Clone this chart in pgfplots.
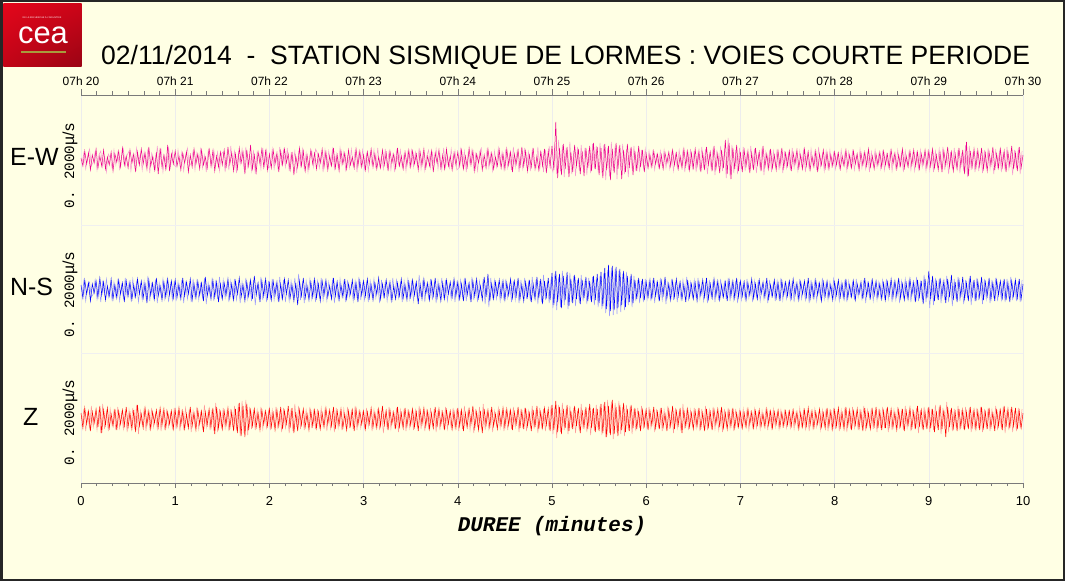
\documentclass[border=0pt]{standalone}
\usepackage{fontspec}
\setmainfont{Liberation Sans}
\newfontfamily\mono{Liberation Mono}
\usepackage{pgfplots}
\pgfplotsset{compat=1.18}
\usetikzlibrary{shadings}
\definecolor{bg}{HTML}{FFFFE4}
\definecolor{axgray}{HTML}{7A7A7A}
\definecolor{ceared}{HTML}{E3061B}
\definecolor{ceadark}{HTML}{9A0414}
\definecolor{ceagold}{HTML}{A89B3C}

% trace axes share this style
\pgfplotsset{trace/.style={
  width=942bp, height=128bp, scale only axis, hide axis,
  xmin=0, xmax=10, ymin=-64, ymax=64, clip=false}}

\begin{document}
\begin{tikzpicture}[x=1bp,y=1bp]
% background and frame
\fill[bg] (0,0) rectangle (1065,-581);
\draw[line width=2.5bp, black!85] (1.25,-1.25) rectangle (1063.75,-579.75);

% CEA logo
\shade[upper left=ceared, upper right=ceared!90!black, lower left=ceared!85!black, lower right=ceadark]
  (3.3,-3.3) rectangle (81.7,-66.7);
\node[white, inner sep=0, font=\fontsize{2.3}{3}\selectfont] at (42,-18) {DE LA RECHERCHE À L'INDUSTRIE};
\node[white, font=\fontsize{31}{31}\selectfont, inner sep=0, anchor=base] at (43,-44) {cea};
\fill[ceagold] (21,-50.7) rectangle (66,-52.7);

% title
\node[anchor=base west, inner sep=0, font=\fontsize{26.6}{27}\selectfont] at (101,-65)
  {02/11/2014~~-~~STATION SISMIQUE DE LORMES : VOIES COURTE PERIODE};

% bottom axis (minutes) with grid
\begin{axis}[
  at={(81bp,-483bp)}, anchor=south west,
  width=942bp, height=388bp, scale only axis,
  xmin=0, xmax=10, ymin=0, ymax=388,
  axis x line*=bottom, axis y line=none,
  xtick={0,...,10}, minor x tick num=5,
  tick align=outside, major tick length=5bp, minor tick length=3bp,
  axis line style={axgray, line width=0.8bp, -},
  every tick/.style={axgray, line width=0.6bp},
  xmajorgrids, major grid style={black!7, line width=0.6bp},
  /pgf/number format/assume math mode=true,
  xticklabel style={font=\fontsize{13}{13}\selectfont, yshift=-5bp},
]
\draw[black!6, line width=0.6bp] (axis cs:0,130) -- (axis cs:10,130);
\draw[black!6, line width=0.6bp] (axis cs:0,258) -- (axis cs:10,258);
\end{axis}

% top axis (clock time)
\begin{axis}[
  at={(81bp,-483bp)}, anchor=south west,
  width=942bp, height=388bp, scale only axis,
  xmin=0, xmax=10, ymin=0, ymax=388,
  axis x line*=top, axis y line=none,
  xtick={0,...,10}, minor x tick num=5,
  xticklabels={07h 20,07h 21,07h 22,07h 23,07h 24,07h 25,07h 26,07h 27,07h 28,07h 29,07h 30},
  tick align=outside, major tick length=6bp, minor tick length=3.5bp,
  axis line style={axgray, line width=0.8bp, -},
  every tick/.style={axgray, line width=0.6bp},
  xticklabel style={font=\fontsize{12}{12}\selectfont},
]
\end{axis}

% E-W trace
\begin{axis}[trace, at={(81bp,-224bp)}, anchor=south west]
\addplot[magenta!40, line width=0.5bp, no marks] table[row sep=\\, x expr=\coordindex/50+0.01, y index=0] {y\\
-4\\ 7\\ -9\\ 3\\ 11\\ -6\\ -2\\ 8\\ -10\\ 5\\ 9\\ -7\\ 4\\ -12\\ 6\\ 2\\ -8\\ 10\\ -5\\ 7\\ -9\\ 3\\ 11\\ -6\\ 5\\
9\\ -11\\ 4\\ -7\\ 12\\ -3\\ 6\\ -10\\ 8\\ -5\\ 11\\ -13\\ 7\\ 2\\ -9\\ 14\\ -6\\ 10\\ -12\\ 4\\ -8\\ 13\\ -7\\ 9\\ -5\\
-7\\ 10\\ -5\\ 8\\ -11\\ 4\\ 12\\ -6\\ -3\\ 9\\ -10\\ 7\\ -4\\ 11\\ -8\\ 5\\ -12\\ 9\\ 6\\ -7\\ 10\\ -4\\ 8\\ -11\\ 6\\
8\\ -12\\ 6\\ -10\\ 14\\ -5\\ 9\\ -13\\ 7\\ -4\\ 11\\ -9\\ 13\\ -7\\ 5\\ -11\\ 10\\ -14\\ 8\\ 6\\ -9\\ 12\\ -6\\ 10\\ -8\\
-6\\ 11\\ -9\\ 5\\ -8\\ 13\\ -4\\ 10\\ -7\\ 12\\ -11\\ 6\\ -4\\ 9\\ -13\\ 8\\ -6\\ 11\\ -9\\ 7\\ -12\\ 5\\ 9\\ -7\\ 11\\
7\\ -8\\ 5\\ -12\\ 10\\ -6\\ 9\\ -4\\ 11\\ -9\\ 6\\ -7\\ 12\\ -5\\ 8\\ -10\\ 4\\ -8\\ 11\\ -6\\ 9\\ -12\\ 7\\ -5\\ 10\\
-9\\ 6\\ -11\\ 7\\ -5\\ 10\\ -8\\ 12\\ -6\\ 4\\ -9\\ 11\\ -7\\ 8\\ -10\\ 5\\ -12\\ 9\\ -4\\ 10\\ -7\\ 6\\ -11\\ 8\\ -6\\
10\\ -7\\ 8\\ -5\\ 12\\ -9\\ 6\\ -11\\ 4\\ 10\\ -8\\ 7\\ -5\\ 11\\ -9\\ 6\\ -10\\ 12\\ -7\\ 5\\ -8\\ 11\\ -6\\ 9\\ -10\\
-8\\ 11\\ -6\\ 9\\ -12\\ 7\\ -4\\ 10\\ -9\\ 6\\ -11\\ 8\\ 12\\ -7\\ -5\\ 10\\ -8\\ 6\\ -11\\ 9\\ -7\\ 12\\ -5\\ 8\\ -9\\
11\\ -8\\ 6\\ -10\\ 13\\ -7\\ 9\\ -12\\ 5\\ -9\\ 12\\ -6\\ 8\\ -11\\ 10\\ -5\\ -8\\ 13\\ -9\\ 7\\ -12\\ 10\\ -8\\ 14\\ -6\\
-12\\ 16\\ -14\\ 20\\ -11\\ 15\\ -17\\ 12\\ -10\\ 18\\ -14\\ 9\\ -16\\ 13\\ -11\\ 15\\ -8\\ 12\\ -15\\ 10\\ -13\\ 16\\ -9\\ 14\\ -12\\
17\\ -13\\ 15\\ -20\\ 12\\ -16\\ 18\\ -11\\ 14\\ -19\\ 13\\ -10\\ 16\\ -14\\ 11\\ -17\\ 12\\ -9\\ 14\\ -11\\ 8\\ -12\\ 10\\ -8\\ 11\\
-7\\ 9\\ -6\\ 8\\ -10\\ 5\\ -7\\ 9\\ -6\\ 10\\ -8\\ 4\\ -9\\ 7\\ -11\\ 6\\ -8\\ 10\\ -5\\ 9\\ -12\\ 7\\ -10\\ 11\\ -8\\
9\\ -12\\ 7\\ -10\\ 13\\ -8\\ 11\\ -14\\ 6\\ -9\\ 12\\ -15\\ 10\\ -7\\ 14\\ -11\\ 9\\ -18\\ 22\\ -16\\ 15\\ -13\\ 10\\ -14\\ 12\\
-9\\ 13\\ -11\\ 7\\ -10\\ 14\\ -8\\ 11\\ -13\\ 6\\ -9\\ 12\\ -15\\ 8\\ -7\\ 10\\ -12\\ 9\\ -6\\ 11\\ -10\\ 7\\ -13\\ 9\\ -8\\
7\\ -10\\ 12\\ -8\\ 5\\ -11\\ 9\\ -6\\ 10\\ -12\\ 7\\ -9\\ 11\\ -5\\ 8\\ -10\\ 13\\ -7\\ 6\\ -11\\ 9\\ -8\\ 10\\ -6\\ 7\\
-9\\ 6\\ -8\\ 10\\ -5\\ 7\\ -11\\ 8\\ -6\\ 9\\ -10\\ 5\\ -7\\ 11\\ -8\\ 6\\ -9\\ 7\\ -12\\ 8\\ -5\\ 10\\ -7\\ 6\\ -9\\
8\\ -10\\ 6\\ -7\\ 9\\ -11\\ 5\\ -8\\ 10\\ -6\\ 7\\ -12\\ 9\\ -5\\ 8\\ -10\\ 6\\ -11\\ 7\\ -9\\ 10\\ -7\\ 5\\ -11\\ 8\\
-10\\ 7\\ -12\\ 9\\ -6\\ 11\\ -8\\ 13\\ -10\\ 6\\ -14\\ 8\\ -9\\ 12\\ -7\\ 10\\ -13\\ 7\\ -11\\ 15\\ -17\\ 14\\ -10\\ 8\\ -12\\
9\\ -11\\ 7\\ -13\\ 10\\ -8\\ 12\\ -9\\ 6\\ -14\\ 11\\ -7\\ 9\\ -12\\ 8\\ -10\\ 13\\ -9\\ 7\\ -15\\ 10\\ -8\\ 12\\ -14\\ 9\\
};
\addplot[magenta, line width=0.5bp, no marks] table[row sep=\\, x expr=\coordindex/50, y index=0] {y\\
2\\ -6\\ 9\\ -4\\ 7\\ -10\\ 5\\ -3\\ 11\\ -8\\ 4\\ -6\\ 10\\ -9\\ 3\\ -5\\ 8\\ -11\\ 6\\ -2\\ 9\\ -7\\ 12\\ -5\\ 4\\
-8\\ 10\\ -3\\ 6\\ -12\\ 8\\ -5\\ 11\\ -4\\ 7\\ -9\\ 13\\ -6\\ 3\\ -10\\ 8\\ -14\\ 12\\ -7\\ 5\\ -9\\ 15\\ -11\\ 6\\ -4\\
9\\ -6\\ 4\\ -10\\ 7\\ -3\\ 8\\ -12\\ 5\\ -7\\ 11\\ -4\\ 6\\ -9\\ 10\\ -5\\ 3\\ -8\\ 12\\ -6\\ 9\\ -11\\ 4\\ -7\\ 8\\
-5\\ 10\\ -8\\ 13\\ -4\\ 7\\ -11\\ 6\\ -9\\ 12\\ -3\\ 8\\ -14\\ 10\\ -6\\ 15\\ -9\\ 5\\ -12\\ 8\\ -4\\ 11\\ -7\\ 9\\ -10\\
6\\ -8\\ 10\\ -4\\ 7\\ -12\\ 9\\ -5\\ 11\\ -3\\ 6\\ -10\\ 8\\ -15\\ 4\\ -7\\ 12\\ -6\\ 9\\ -11\\ 5\\ -8\\ 10\\ -4\\ 7\\
-9\\ 6\\ -3\\ 11\\ -7\\ 8\\ -10\\ 4\\ -6\\ 12\\ -8\\ 5\\ -11\\ 9\\ -4\\ 7\\ -9\\ 10\\ -5\\ 3\\ -8\\ 11\\ -6\\ 9\\ -7\\
5\\ -10\\ 8\\ -4\\ 11\\ -7\\ 6\\ -9\\ 3\\ -8\\ 10\\ -5\\ 7\\ -11\\ 9\\ -3\\ 6\\ -8\\ 12\\ -6\\ 4\\ -9\\ 8\\ -5\\ 10\\
-7\\ 9\\ -4\\ 6\\ -10\\ 8\\ -5\\ 11\\ -8\\ 4\\ -6\\ 9\\ -12\\ 7\\ -3\\ 10\\ -8\\ 5\\ -9\\ 11\\ -6\\ 4\\ -10\\ 7\\ -5\\
8\\ -6\\ 10\\ -9\\ 4\\ -7\\ 12\\ -5\\ 9\\ -11\\ 6\\ -3\\ 8\\ -10\\ 5\\ -8\\ 11\\ -4\\ 7\\ -9\\ 3\\ -6\\ 10\\ -8\\ 6\\
-9\\ 11\\ -5\\ 8\\ -12\\ 6\\ -4\\ 10\\ -8\\ 13\\ -6\\ 9\\ -11\\ 5\\ -7\\ 12\\ -9\\ 4\\ -10\\ 8\\ -6\\ 11\\ -13\\ 9\\ -7\\
14\\ -10\\ 38\\ -18\\ 12\\ -15\\ 16\\ -9\\ 13\\ -17\\ 8\\ -12\\ 15\\ -6\\ 11\\ -14\\ 9\\ -16\\ 12\\ -8\\ 14\\ -11\\ 17\\ -9\\ 13\\
-15\\ 12\\ -18\\ 16\\ -10\\ 14\\ -20\\ 11\\ -13\\ 17\\ -9\\ 15\\ -19\\ 10\\ -12\\ 16\\ -8\\ 13\\ -15\\ 9\\ -11\\ 14\\ -7\\ 10\\ -12\\
6\\ -8\\ 5\\ -7\\ 9\\ -4\\ 6\\ -8\\ 5\\ -9\\ 7\\ -3\\ 8\\ -6\\ 10\\ -5\\ 7\\ -9\\ 4\\ -8\\ 11\\ -6\\ 9\\ -10\\ 7\\
-8\\ 11\\ -6\\ 9\\ -12\\ 7\\ -10\\ 13\\ -5\\ 8\\ -11\\ 14\\ -9\\ 6\\ -13\\ 10\\ -8\\ 20\\ -14\\ 17\\ -19\\ 12\\ -9\\ 15\\ -11\\
8\\ -12\\ 10\\ -6\\ 9\\ -13\\ 7\\ -10\\ 12\\ -5\\ 8\\ -11\\ 14\\ -7\\ 6\\ -9\\ 11\\ -8\\ 5\\ -10\\ 9\\ -6\\ 12\\ -8\\ 7\\
-6\\ 9\\ -11\\ 7\\ -4\\ 10\\ -8\\ 5\\ -9\\ 11\\ -6\\ 8\\ -10\\ 4\\ -7\\ 9\\ -12\\ 6\\ -5\\ 10\\ -8\\ 7\\ -9\\ 5\\ -6\\
8\\ -5\\ 7\\ -9\\ 4\\ -6\\ 10\\ -7\\ 5\\ -8\\ 9\\ -4\\ 6\\ -10\\ 7\\ -5\\ 8\\ -6\\ 11\\ -7\\ 4\\ -9\\ 6\\ -5\\ 8\\
-7\\ 9\\ -5\\ 6\\ -8\\ 10\\ -4\\ 7\\ -9\\ 5\\ -6\\ 11\\ -8\\ 4\\ -7\\ 9\\ -5\\ 10\\ -6\\ 8\\ -9\\ 6\\ -4\\ 10\\ -7\\
9\\ -6\\ 11\\ -8\\ 5\\ -10\\ 7\\ -12\\ 9\\ -5\\ 13\\ -7\\ 8\\ -11\\ 6\\ -9\\ 12\\ -6\\ 10\\ -14\\ 18\\ -16\\ 9\\ -7\\ 11\\
-8\\ 10\\ -6\\ 12\\ -9\\ 7\\ -11\\ 8\\ -5\\ 13\\ -10\\ 6\\ -8\\ 11\\ -7\\ 9\\ -12\\ 8\\ -6\\ 14\\ -9\\ 7\\ -11\\ 13\\ -8\\
5\\
};
\end{axis}

% N-S trace
\begin{axis}[trace, at={(81bp,-354bp)}, anchor=south west]
\addplot[blue!40, line width=0.5bp, no marks] table[row sep=\\, x expr=\coordindex/50+0.01, y index=0] {y\\
-6\\ 9\\ -11\\ 5\\ 8\\ -7\\ -4\\ 10\\ -9\\ 6\\ -12\\ 8\\ -5\\ 11\\ -7\\ 3\\ -10\\ 8\\ -6\\ 9\\ -11\\ 5\\ -8\\ 12\\ -7\\
7\\ -9\\ 11\\ -6\\ 8\\ -12\\ 5\\ -10\\ 9\\ -7\\ 14\\ -11\\ 6\\ -8\\ 10\\ -13\\ 7\\ -5\\ 11\\ -9\\ 8\\ -12\\ 6\\ -10\\ 9\\
-11\\ 8\\ -6\\ 10\\ -13\\ 7\\ -9\\ 5\\ -12\\ 11\\ -7\\ 9\\ -10\\ 6\\ -8\\ 12\\ -14\\ 7\\ -5\\ 10\\ -11\\ 8\\ -9\\ 13\\ -7\\
10\\ -8\\ 6\\ -12\\ 9\\ -7\\ 11\\ -10\\ 5\\ -13\\ 8\\ -6\\ 12\\ -9\\ 7\\ -11\\ 10\\ -15\\ 6\\ -8\\ 13\\ -10\\ 7\\ -12\\ 9\\
-8\\ 11\\ -10\\ 6\\ -9\\ 13\\ -7\\ 10\\ -12\\ 5\\ -11\\ 9\\ -6\\ 12\\ -8\\ 16\\ -10\\ 7\\ -13\\ 9\\ -5\\ 11\\ -9\\ 8\\ -12\\
9\\ -7\\ 12\\ -10\\ 6\\ -11\\ 8\\ -5\\ 10\\ -13\\ 7\\ -9\\ 11\\ -6\\ 8\\ -12\\ 10\\ -7\\ 5\\ -11\\ 9\\ -8\\ 13\\ -10\\ 6\\
-10\\ 7\\ -12\\ 9\\ -6\\ 11\\ -8\\ 5\\ -13\\ 10\\ -7\\ 8\\ -11\\ 6\\ -9\\ 12\\ -5\\ 10\\ -8\\ 7\\ -12\\ 9\\ -6\\ 11\\ -9\\
8\\ -11\\ 6\\ -9\\ 15\\ -7\\ 10\\ -12\\ 5\\ -8\\ 11\\ -10\\ 7\\ -13\\ 9\\ -6\\ 12\\ -8\\ 10\\ -11\\ 5\\ -9\\ 8\\ -12\\ 7\\
-9\\ 10\\ -7\\ 12\\ -11\\ 6\\ -8\\ 13\\ -10\\ 7\\ -12\\ 9\\ -5\\ 11\\ -14\\ 8\\ -17\\ 12\\ -7\\ 10\\ -9\\ 6\\ -11\\ 8\\ -10\\
11\\ -8\\ 6\\ -12\\ 9\\ -10\\ 7\\ -13\\ 10\\ -6\\ 12\\ -9\\ 8\\ -11\\ 13\\ -7\\ 10\\ -14\\ 9\\ -12\\ 15\\ -10\\ 8\\ -13\\ 11\\
-18\\ 16\\ -20\\ 13\\ -17\\ 19\\ -15\\ 11\\ -19\\ 17\\ -12\\ 14\\ -16\\ 10\\ -13\\ 15\\ -11\\ 9\\ -14\\ 12\\ -10\\ 13\\ -15\\ 11\\ -17\\
14\\ -19\\ 17\\ -23\\ 20\\ -26\\ 22\\ -25\\ 21\\ -24\\ 19\\ -22\\ 16\\ -20\\ 18\\ -15\\ 13\\ -17\\ 14\\ -11\\ 10\\ -13\\ 9\\ -12\\ 11\\
-9\\ 8\\ -11\\ 10\\ -13\\ 7\\ -9\\ 12\\ -10\\ 6\\ -14\\ 9\\ -7\\ 11\\ -10\\ 8\\ -12\\ 7\\ -9\\ 10\\ -6\\ 13\\ -11\\ 8\\ -7\\
10\\ -8\\ 12\\ -9\\ 6\\ -11\\ 8\\ -13\\ 10\\ -7\\ 9\\ -12\\ 7\\ -10\\ 11\\ -6\\ 8\\ -9\\ 12\\ -11\\ 7\\ -10\\ 9\\ -13\\ 8\\
-10\\ 7\\ -9\\ 11\\ -8\\ 6\\ -12\\ 9\\ -7\\ 10\\ -11\\ 5\\ -9\\ 8\\ -13\\ 10\\ -6\\ 7\\ -11\\ 9\\ -8\\ 12\\ -10\\ 6\\ -9\\
7\\ -10\\ 9\\ -12\\ 6\\ -8\\ 11\\ -9\\ 5\\ -10\\ 8\\ -13\\ 10\\ -7\\ 9\\ -11\\ 6\\ -8\\ 12\\ -9\\ 7\\ -10\\ 8\\ -6\\ 11\\
-9\\ 6\\ -11\\ 8\\ -7\\ 10\\ -12\\ 9\\ -6\\ 8\\ -10\\ 11\\ -7\\ 5\\ -9\\ 10\\ -13\\ 7\\ -8\\ 9\\ -11\\ 6\\ -10\\ 8\\ -7\\
10\\ -8\\ 11\\ -9\\ 6\\ -12\\ 8\\ -10\\ 7\\ -13\\ 9\\ -7\\ 11\\ -8\\ 10\\ -12\\ 6\\ -9\\ 13\\ -11\\ 8\\ -10\\ 15\\ -12\\ 9\\
-18\\ 10\\ -15\\ 12\\ -9\\ 11\\ -13\\ 7\\ -10\\ 14\\ -12\\ 8\\ -16\\ 11\\ -9\\ 13\\ -11\\ 7\\ -14\\ 10\\ -8\\ 12\\ -15\\ 9\\ -11\\
12\\ -10\\ 8\\ -14\\ 11\\ -9\\ 7\\ -13\\ 10\\ -8\\ 12\\ -11\\ 6\\ -10\\ 9\\ -12\\ 11\\ -8\\ 13\\ -10\\ 7\\ -11\\ 9\\ -12\\ 10\\
};
\addplot[blue, line width=0.5bp, no marks] table[row sep=\\, x expr=\coordindex/50, y index=0] {y\\
5\\ -8\\ 10\\ -4\\ 7\\ -11\\ 6\\ -3\\ 9\\ -7\\ 12\\ -5\\ 8\\ -10\\ 4\\ -6\\ 11\\ -9\\ 5\\ -8\\ 10\\ -4\\ 7\\ -12\\ 9\\
-6\\ 8\\ -10\\ 5\\ -7\\ 11\\ -4\\ 9\\ -8\\ 6\\ -13\\ 10\\ -5\\ 7\\ -9\\ 12\\ -6\\ 4\\ -10\\ 8\\ -7\\ 11\\ -5\\ 9\\ -8\\
10\\ -7\\ 5\\ -9\\ 12\\ -6\\ 8\\ -4\\ 11\\ -10\\ 6\\ -8\\ 9\\ -5\\ 7\\ -11\\ 13\\ -6\\ 4\\ -9\\ 10\\ -7\\ 8\\ -12\\ 6\\
-9\\ 7\\ -5\\ 11\\ -8\\ 6\\ -10\\ 9\\ -4\\ 12\\ -7\\ 5\\ -11\\ 8\\ -6\\ 10\\ -9\\ 14\\ -5\\ 7\\ -12\\ 9\\ -6\\ 11\\ -8\\
7\\ -10\\ 9\\ -5\\ 8\\ -12\\ 6\\ -9\\ 11\\ -4\\ 10\\ -8\\ 5\\ -11\\ 7\\ -15\\ 9\\ -6\\ 12\\ -8\\ 4\\ -10\\ 8\\ -7\\ 11\\
-8\\ 6\\ -11\\ 9\\ -5\\ 10\\ -7\\ 4\\ -9\\ 12\\ -6\\ 8\\ -10\\ 5\\ -7\\ 11\\ -9\\ 6\\ -4\\ 10\\ -8\\ 7\\ -12\\ 9\\ -5\\
9\\ -6\\ 11\\ -8\\ 5\\ -10\\ 7\\ -4\\ 12\\ -9\\ 6\\ -7\\ 10\\ -5\\ 8\\ -11\\ 4\\ -9\\ 7\\ -6\\ 11\\ -8\\ 5\\ -10\\ 8\\
-7\\ 10\\ -5\\ 8\\ -14\\ 6\\ -9\\ 11\\ -4\\ 7\\ -10\\ 9\\ -6\\ 12\\ -8\\ 5\\ -11\\ 7\\ -9\\ 10\\ -4\\ 8\\ -7\\ 11\\ -6\\
8\\ -9\\ 6\\ -11\\ 10\\ -5\\ 7\\ -12\\ 9\\ -6\\ 11\\ -8\\ 4\\ -10\\ 13\\ -7\\ 16\\ -11\\ 6\\ -9\\ 8\\ -5\\ 10\\ -7\\ 9\\
-10\\ 7\\ -5\\ 11\\ -8\\ 9\\ -6\\ 12\\ -9\\ 5\\ -11\\ 8\\ -7\\ 10\\ -12\\ 6\\ -9\\ 13\\ -8\\ 11\\ -14\\ 9\\ -7\\ 12\\ -10\\
17\\ -15\\ 19\\ -12\\ 16\\ -18\\ 14\\ -10\\ 18\\ -16\\ 11\\ -13\\ 15\\ -9\\ 12\\ -14\\ 10\\ -8\\ 13\\ -11\\ 9\\ -12\\ 14\\ -10\\ 16\\
-13\\ 18\\ -16\\ 22\\ -19\\ 25\\ -21\\ 24\\ -20\\ 23\\ -18\\ 21\\ -15\\ 19\\ -17\\ 14\\ -12\\ 16\\ -13\\ 10\\ -9\\ 12\\ -8\\ 11\\ -10\\
8\\ -7\\ 10\\ -9\\ 12\\ -6\\ 8\\ -11\\ 9\\ -5\\ 13\\ -8\\ 6\\ -10\\ 9\\ -7\\ 11\\ -6\\ 8\\ -9\\ 5\\ -12\\ 10\\ -7\\ 6\\
-9\\ 7\\ -11\\ 8\\ -5\\ 10\\ -7\\ 12\\ -9\\ 6\\ -8\\ 11\\ -6\\ 9\\ -10\\ 5\\ -7\\ 8\\ -11\\ 10\\ -6\\ 9\\ -8\\ 12\\ -7\\
9\\ -6\\ 8\\ -10\\ 7\\ -5\\ 11\\ -8\\ 6\\ -9\\ 10\\ -4\\ 8\\ -7\\ 12\\ -9\\ 5\\ -6\\ 10\\ -8\\ 7\\ -11\\ 9\\ -5\\ 8\\
-6\\ 9\\ -8\\ 11\\ -5\\ 7\\ -10\\ 8\\ -4\\ 9\\ -7\\ 12\\ -9\\ 6\\ -8\\ 10\\ -5\\ 7\\ -11\\ 8\\ -6\\ 9\\ -7\\ 5\\ -10\\
8\\ -5\\ 10\\ -7\\ 6\\ -9\\ 11\\ -8\\ 5\\ -7\\ 9\\ -10\\ 6\\ -4\\ 8\\ -9\\ 12\\ -6\\ 7\\ -8\\ 10\\ -5\\ 9\\ -7\\ 6\\
-9\\ 7\\ -10\\ 8\\ -5\\ 11\\ -7\\ 9\\ -6\\ 12\\ -8\\ 6\\ -10\\ 7\\ -9\\ 11\\ -5\\ 8\\ -12\\ 10\\ -7\\ 9\\ -14\\ 11\\ -8\\
19\\ -9\\ 14\\ -11\\ 8\\ -10\\ 12\\ -6\\ 9\\ -13\\ 11\\ -7\\ 15\\ -10\\ 8\\ -12\\ 10\\ -6\\ 13\\ -9\\ 7\\ -11\\ 14\\ -8\\ 10\\
-11\\ 9\\ -7\\ 13\\ -10\\ 8\\ -6\\ 12\\ -9\\ 7\\ -11\\ 10\\ -5\\ 9\\ -8\\ 11\\ -10\\ 7\\ -12\\ 9\\ -6\\ 10\\ -8\\ 11\\ -9\\
6\\
};
\end{axis}

% Z trace
\begin{axis}[trace, at={(81bp,-483bp)}, anchor=south west]
\addplot[red!40, line width=0.5bp, no marks] table[row sep=\\, x expr=\coordindex/50+0.01, y index=0] {y\\
-7\\ 10\\ -12\\ 6\\ -9\\ 13\\ -8\\ 5\\ -11\\ 9\\ -14\\ 15\\ -10\\ 7\\ -12\\ 10\\ -6\\ 8\\ -11\\ 12\\ -9\\ 6\\ -10\\ 8\\ -13\\
9\\ -7\\ 11\\ -10\\ 14\\ -15\\ 8\\ -6\\ 10\\ -12\\ 7\\ -9\\ 11\\ -8\\ 5\\ -10\\ 9\\ -12\\ 7\\ -11\\ 10\\ -8\\ 6\\ -9\\ 11\\
-10\\ 8\\ -12\\ 7\\ -9\\ 11\\ -6\\ 10\\ -13\\ 8\\ -7\\ 12\\ -10\\ 6\\ -9\\ 14\\ -8\\ 7\\ -11\\ 9\\ -12\\ 16\\ -13\\ 10\\ -8\\
11\\ -9\\ 7\\ -12\\ 10\\ -8\\ 13\\ -11\\ 15\\ -17\\ 18\\ -14\\ 19\\ -16\\ 12\\ -10\\ 8\\ -11\\ 9\\ -7\\ 12\\ -10\\ 6\\ -9\\ 8\\
-11\\ 9\\ -7\\ 12\\ -10\\ 8\\ -13\\ 11\\ -9\\ 6\\ -14\\ 10\\ -12\\ 15\\ -8\\ 13\\ -10\\ 7\\ -11\\ 9\\ -6\\ 12\\ -9\\ 8\\ -10\\
10\\ -8\\ 11\\ -7\\ 9\\ -12\\ 6\\ -10\\ 8\\ -13\\ 11\\ -9\\ 7\\ -11\\ 10\\ -6\\ 12\\ -9\\ 8\\ -10\\ 13\\ -11\\ 7\\ -9\\ 6\\
-9\\ 11\\ -8\\ 6\\ -12\\ 9\\ -7\\ 10\\ -11\\ 8\\ -14\\ 7\\ -9\\ 12\\ -10\\ 6\\ -8\\ 11\\ -13\\ 9\\ -7\\ 10\\ -12\\ 8\\ -9\\
7\\ -11\\ 9\\ -8\\ 13\\ -10\\ 6\\ -12\\ 8\\ -9\\ 11\\ -7\\ 10\\ -13\\ 9\\ -11\\ 7\\ -8\\ 12\\ -10\\ 6\\ -9\\ 11\\ -8\\ 10\\
-12\\ 8\\ -10\\ 13\\ -7\\ 9\\ -11\\ 6\\ -14\\ 10\\ -8\\ 12\\ -9\\ 15\\ -11\\ 7\\ -10\\ 9\\ -13\\ 8\\ -6\\ 11\\ -9\\ 7\\ -12\\
9\\ -11\\ 7\\ -10\\ 12\\ -8\\ 6\\ -13\\ 10\\ -9\\ 11\\ -12\\ 8\\ -7\\ 13\\ -10\\ 9\\ -14\\ 11\\ -8\\ 10\\ -12\\ 7\\ -11\\ 13\\
-15\\ 12\\ -19\\ 14\\ -13\\ 16\\ -11\\ 10\\ -15\\ 13\\ -9\\ 11\\ -14\\ 8\\ -12\\ 15\\ -10\\ 9\\ -13\\ 11\\ -16\\ 10\\ -12\\ 14\\ -11\\
13\\ -16\\ 15\\ -18\\ 19\\ -14\\ 17\\ -20\\ 16\\ -13\\ 18\\ -15\\ 12\\ -17\\ 14\\ -11\\ 13\\ -15\\ 10\\ -12\\ 11\\ -9\\ 13\\ -10\\ 8\\
-10\\ 12\\ -9\\ 7\\ -13\\ 10\\ -8\\ 11\\ -12\\ 9\\ -6\\ 13\\ -10\\ 8\\ -14\\ 11\\ -9\\ 7\\ -12\\ 15\\ -10\\ 8\\ -11\\ 9\\ -7\\
11\\ -9\\ 8\\ -12\\ 10\\ -7\\ 13\\ -11\\ 9\\ -8\\ 12\\ -10\\ 6\\ -11\\ 9\\ -13\\ 10\\ -7\\ 11\\ -9\\ 8\\ -12\\ 10\\ -7\\ 9\\
-8\\ 10\\ -7\\ 9\\ -11\\ 6\\ -8\\ 10\\ -9\\ 7\\ -10\\ 8\\ -6\\ 9\\ -11\\ 7\\ -9\\ 10\\ -8\\ 6\\ -10\\ 9\\ -7\\ 8\\ -9\\
7\\ -9\\ 8\\ -10\\ 6\\ -8\\ 11\\ -7\\ 9\\ -10\\ 8\\ -12\\ 7\\ -9\\ 10\\ -8\\ 6\\ -11\\ 9\\ -7\\ 10\\ -12\\ 8\\ -9\\ 11\\
-10\\ 8\\ -12\\ 9\\ -7\\ 11\\ -13\\ 8\\ -10\\ 12\\ -9\\ 7\\ -11\\ 10\\ -8\\ 13\\ -12\\ 9\\ -7\\ 11\\ -10\\ 8\\ -13\\ 10\\ -9\\
12\\ -9\\ 10\\ -13\\ 8\\ -11\\ 9\\ -7\\ 12\\ -10\\ 8\\ -11\\ 13\\ -9\\ 7\\ -12\\ 10\\ -8\\ 11\\ -14\\ 9\\ -10\\ 12\\ -8\\ 11\\
-13\\ 10\\ -11\\ 14\\ -9\\ 12\\ -15\\ 11\\ -10\\ 17\\ -13\\ 9\\ -12\\ 10\\ -8\\ 13\\ -11\\ 9\\ -10\\ 12\\ -8\\ 11\\ -13\\ 9\\ -10\\
11\\ -9\\ 12\\ -13\\ 10\\ -8\\ 11\\ -12\\ 9\\ -7\\ 13\\ -11\\ 8\\ -10\\ 12\\ -14\\ 9\\ -11\\ 10\\ -13\\ 8\\ -12\\ 11\\ -9\\ 10\\
};
\addplot[red, line width=0.5bp, no marks] table[row sep=\\, x expr=\coordindex/50, y index=0] {y\\
6\\ -9\\ 11\\ -5\\ 8\\ -12\\ 7\\ -4\\ 10\\ -8\\ 13\\ -14\\ 9\\ -6\\ 11\\ -9\\ 5\\ -7\\ 10\\ -11\\ 8\\ -5\\ 9\\ -7\\ 12\\
-8\\ 6\\ -10\\ 9\\ -13\\ 14\\ -7\\ 5\\ -9\\ 11\\ -6\\ 8\\ -10\\ 7\\ -4\\ 9\\ -8\\ 11\\ -6\\ 10\\ -9\\ 7\\ -5\\ 8\\ -10\\
9\\ -7\\ 11\\ -6\\ 8\\ -10\\ 5\\ -9\\ 12\\ -7\\ 6\\ -11\\ 9\\ -5\\ 8\\ -13\\ 7\\ -6\\ 10\\ -8\\ 11\\ -15\\ 12\\ -9\\ 7\\
-10\\ 8\\ -6\\ 11\\ -9\\ 7\\ -12\\ 10\\ -14\\ 16\\ -17\\ 13\\ -18\\ 15\\ -11\\ 9\\ -7\\ 10\\ -8\\ 6\\ -11\\ 9\\ -5\\ 8\\ -7\\
10\\ -8\\ 6\\ -11\\ 9\\ -7\\ 12\\ -10\\ 8\\ -5\\ 13\\ -9\\ 11\\ -14\\ 7\\ -12\\ 9\\ -6\\ 10\\ -8\\ 5\\ -11\\ 8\\ -7\\ 9\\
-9\\ 7\\ -10\\ 6\\ -8\\ 11\\ -5\\ 9\\ -7\\ 12\\ -10\\ 8\\ -6\\ 10\\ -9\\ 5\\ -11\\ 8\\ -7\\ 9\\ -12\\ 10\\ -6\\ 8\\ -5\\
8\\ -10\\ 7\\ -5\\ 11\\ -8\\ 6\\ -9\\ 10\\ -7\\ 13\\ -6\\ 8\\ -11\\ 9\\ -5\\ 7\\ -10\\ 12\\ -8\\ 6\\ -9\\ 11\\ -7\\ 8\\
-6\\ 10\\ -8\\ 7\\ -12\\ 9\\ -5\\ 11\\ -7\\ 8\\ -10\\ 6\\ -9\\ 12\\ -8\\ 10\\ -6\\ 7\\ -11\\ 9\\ -5\\ 8\\ -10\\ 7\\ -9\\
11\\ -7\\ 9\\ -12\\ 6\\ -8\\ 10\\ -5\\ 13\\ -9\\ 7\\ -11\\ 8\\ -14\\ 10\\ -6\\ 9\\ -8\\ 12\\ -7\\ 5\\ -10\\ 8\\ -6\\ 11\\
-8\\ 10\\ -6\\ 9\\ -11\\ 7\\ -5\\ 12\\ -9\\ 8\\ -10\\ 11\\ -7\\ 6\\ -12\\ 9\\ -8\\ 13\\ -10\\ 7\\ -9\\ 11\\ -6\\ 10\\ -12\\
14\\ -11\\ 18\\ -13\\ 12\\ -15\\ 10\\ -9\\ 14\\ -12\\ 8\\ -10\\ 13\\ -7\\ 11\\ -14\\ 9\\ -8\\ 12\\ -10\\ 15\\ -9\\ 11\\ -13\\ 10\\
-12\\ 15\\ -14\\ 17\\ -18\\ 13\\ -16\\ 19\\ -15\\ 12\\ -17\\ 14\\ -11\\ 16\\ -13\\ 10\\ -12\\ 14\\ -9\\ 11\\ -10\\ 8\\ -12\\ 9\\ -7\\
9\\ -11\\ 8\\ -6\\ 12\\ -9\\ 7\\ -10\\ 11\\ -8\\ 5\\ -12\\ 9\\ -7\\ 13\\ -10\\ 8\\ -6\\ 11\\ -14\\ 9\\ -7\\ 10\\ -8\\ 6\\
-10\\ 8\\ -7\\ 11\\ -9\\ 6\\ -12\\ 10\\ -8\\ 7\\ -11\\ 9\\ -5\\ 10\\ -8\\ 12\\ -9\\ 6\\ -10\\ 8\\ -7\\ 11\\ -9\\ 6\\ -8\\
7\\ -9\\ 6\\ -8\\ 10\\ -5\\ 7\\ -9\\ 8\\ -6\\ 9\\ -7\\ 5\\ -8\\ 10\\ -6\\ 8\\ -9\\ 7\\ -5\\ 9\\ -8\\ 6\\ -7\\ 8\\
-6\\ 8\\ -7\\ 9\\ -5\\ 7\\ -10\\ 6\\ -8\\ 9\\ -7\\ 11\\ -6\\ 8\\ -9\\ 7\\ -5\\ 10\\ -8\\ 6\\ -9\\ 11\\ -7\\ 8\\ -10\\
9\\ -7\\ 11\\ -8\\ 6\\ -10\\ 12\\ -7\\ 9\\ -11\\ 8\\ -6\\ 10\\ -9\\ 7\\ -12\\ 11\\ -8\\ 6\\ -10\\ 9\\ -7\\ 12\\ -9\\ 8\\
-11\\ 8\\ -9\\ 12\\ -7\\ 10\\ -8\\ 6\\ -11\\ 9\\ -7\\ 10\\ -12\\ 8\\ -6\\ 11\\ -9\\ 7\\ -10\\ 13\\ -8\\ 9\\ -11\\ 7\\ -10\\
12\\ -9\\ 10\\ -13\\ 8\\ -11\\ 14\\ -10\\ 9\\ -18\\ 12\\ -8\\ 11\\ -9\\ 7\\ -12\\ 10\\ -8\\ 9\\ -11\\ 7\\ -10\\ 12\\ -8\\ 9\\
-10\\ 8\\ -11\\ 12\\ -9\\ 7\\ -10\\ 11\\ -8\\ 6\\ -12\\ 10\\ -7\\ 9\\ -11\\ 13\\ -8\\ 10\\ -9\\ 12\\ -7\\ 11\\ -10\\ 8\\ -9\\
6\\
};
\end{axis}

% channel names and scale labels
\node[anchor=base west, inner sep=0, font=\fontsize{25}{25}\selectfont] at (10,-166) {E-W};
\node[anchor=base west, inner sep=0, font=\fontsize{25}{25}\selectfont] at (10,-296) {N-S};
\node[anchor=base west, inner sep=0, font=\fontsize{25}{25}\selectfont] at (23,-425) {Z};
\foreach \yc in {166,295,423}
  \node[rotate=90, inner sep=0] at (70,-\yc)
    {{\mono\fontsize{14.3}{14}\selectfont 0. 2000}{\fontsize{16}{16}\selectfont µ/s}};

% x label
\node[font=\mono\bfseries\itshape\fontsize{21}{21}\selectfont] at (552,-526) {DUREE (minutes)};
\end{tikzpicture}
\end{document}
